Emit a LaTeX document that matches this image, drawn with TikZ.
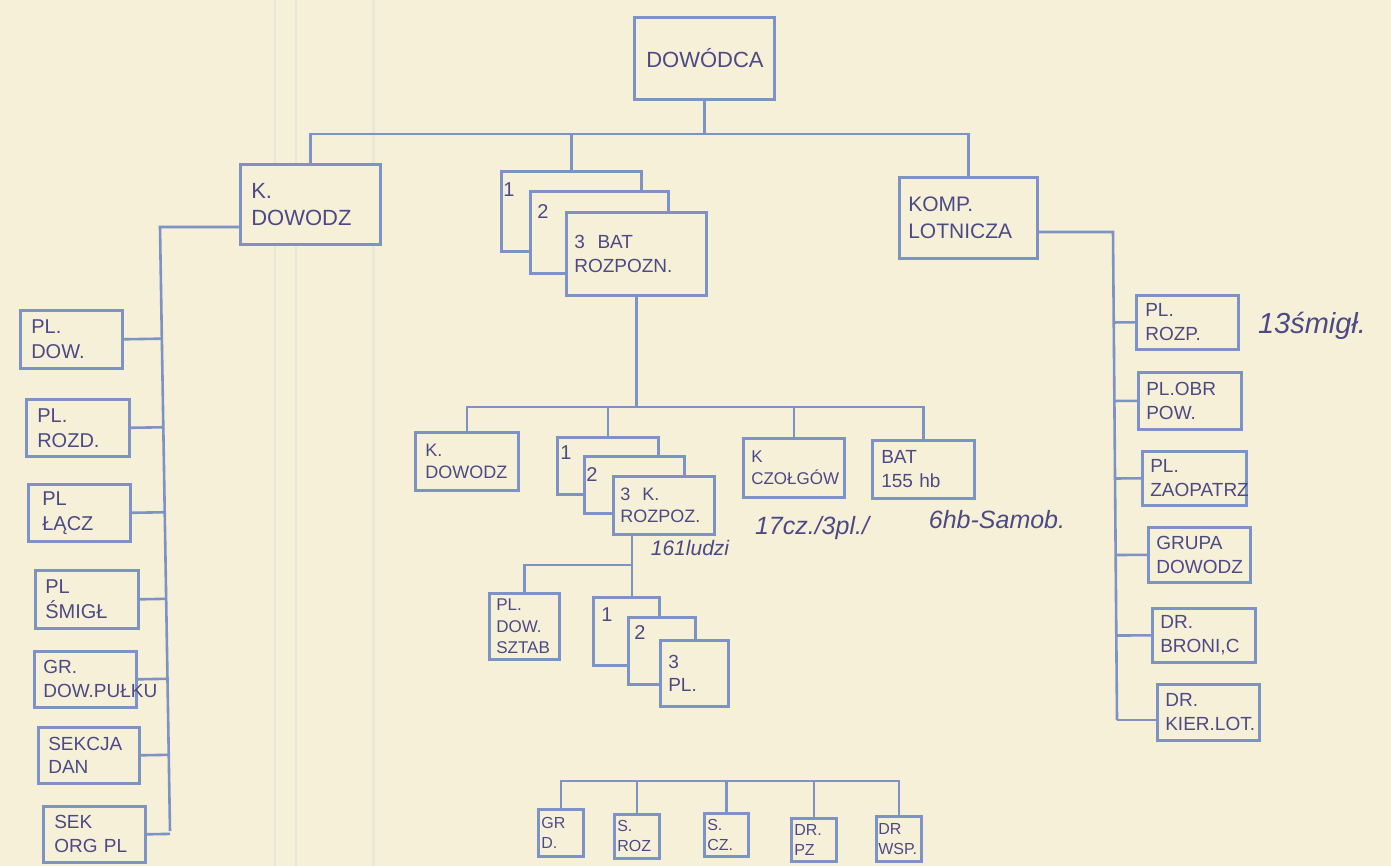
\documentclass[tikz,border=0pt]{standalone}
\usepackage{fontspec}
\setmainfont{Liberation Sans}
\usetikzlibrary{calc}
\definecolor{paper}{HTML}{F6F0D8}
\definecolor{ink}{HTML}{4C4A85}
\definecolor{pen}{HTML}{7D92C5}
\definecolor{fold}{HTML}{EBE7D6}
\tikzset{
  bx/.style={draw=pen, line width=2.6pt, fill=paper, text=ink, align=left, inner sep=0pt, anchor=north west},
  ln/.style={draw=pen, line width=2.6pt},
  note/.style={text=ink, font=\itshape\fontsize{25}{28}\selectfont},
  num/.style={text=ink, font=\fontsize{20}{22}\selectfont},
}
\newcommand\orgbox[8]{%
  \pgfmathsetmacro\obW{#4-#2}%
  \pgfmathsetmacro\obH{#5-#3}%
  \pgfmathsetmacro\obT{#4-#2-2*#7}%
  \pgfmathsetmacro\obS{#6*1.25}%
  \node[bx, minimum width=\obW pt, minimum height=\obH pt, text width=\obT pt,
        font=\fontsize{#6}{\obS}\selectfont] (#1) at (#2,#3) {#8};}
\begin{document}
\begin{tikzpicture}[x=1pt,y=-1pt]
\fill[paper] (0,0) rectangle (1391,866);
\useasboundingbox (0,0) rectangle (1391,866);
% paper fold lines
\draw[fold, line width=2pt] (275,0) -- (275,866);
\draw[fold, line width=2pt] (296,0) -- (296,866);
\draw[fold, line width=3pt] (373,0) -- (373,866);

% top level
\orgbox{dow}{633}{16}{773}{98}{22}{12}{DOWÓDCA}
\orgbox{kd}{239}{163}{379}{243}{22}{11}{K.\\DOWODZ}
\orgbox{ba}{500}{170}{640}{250}{19}{10}{}
\orgbox{bb}{529}{190}{667}{272}{19}{10}{}
\orgbox{bc}{565}{211}{705}{294}{19}{8}{3\ \ BAT\\ROZPOZN.}
\node[num] (nba) at (509,190) {1};
\node[num] (nbb) at (543,212) {2};
\orgbox{komp}{898}{176}{1036}{257}{21}{9}{KOMP.\\LOTNICZA}

\coordinate (t1) at (702,134);
\draw[ln] (dow.south) -- (dow.south |- t1);
\draw[ln] (kd.north) -- (kd.north |- t1) -- (komp.north |- t1) -- (komp.north);
\draw[ln] (ba.north) -- (ba.north |- t1);

% left column
\orgbox{l1}{19}{309}{121}{367}{20}{11}{PL.\\DOW.}
\orgbox{l2}{25}{398}{128}{455}{20}{11}{PL.\\ROZD.}
\orgbox{l3}{27}{483}{129}{540}{20}{14}{PL\\ŁĄCZ}
\orgbox{l4}{34}{569}{137}{627}{20}{10}{PL\\ŚMIGŁ}
\orgbox{l5}{33}{650}{135}{706}{19}{9}{GR.\\DOW.PUŁKU}
\orgbox{l6}{37}{726}{138}{782}{19}{10}{SEKCJA\\DAN}
\orgbox{l7}{42}{805}{144}{861}{19}{11}{SEK\\ORG PL}
\coordinate (sT) at (160,227);
\coordinate (sB) at (170,831);
\draw[ln] (kd.west |- sT) -- (sT) -- (sB);
\foreach \b in {l1,l2,l3,l4,l5,l6,l7}
  \draw[ln] (\b.east) -- ($(sT)!(\b.east)!(sB)$);

% right column
\orgbox{r1}{1135}{294}{1237}{348}{19}{9}{PL.\\ROZP.}
\orgbox{r2}{1137}{371}{1240}{428}{19}{8}{PL.OBR\\POW.}
\orgbox{r3}{1141}{450}{1245}{504}{19}{8}{PL.\\ZAOPATRZ}
\orgbox{r4}{1147}{526}{1249}{581}{19}{8}{GRUPA\\DOWODZ}
\orgbox{r5}{1151}{607}{1254}{661}{19}{8}{DR.\\BRONI,C}
\orgbox{r6}{1156}{683}{1258}{739}{19}{8}{DR.\\KIER.LOT.}
\coordinate (rT) at (1113,232);
\coordinate (rB) at (1117,720);
\draw[ln] (komp.east |- rT) -- (rT) -- (rB);
\foreach \b in {r1,r2,r3,r4,r5}
  \draw[ln] (\b.west) -- ($(rT)!(\b.west)!(rB)$);
\draw[ln] (r6.west |- rB) -- (rB);
\node[note, font=\itshape\fontsize{29}{32}\selectfont] (n13) at (1312,326) {13śmigł.};

% middle level
\orgbox{mkd}{414}{431}{517}{489}{18}{10}{K.\\DOWODZ}
\orgbox{ma}{556}{436}{657}{493}{18}{8}{}
\orgbox{mb}{583}{455}{683}{512}{18}{8}{}
\orgbox{mc}{612}{475}{713}{533}{18}{7}{3\ \ K.\\ROZPOZ.}
\node[num] (nma) at (566,453) {1};
\node[num] (nmb) at (592,475) {2};
\orgbox{cz}{742}{437}{843}{496}{17}{8}{K\\CZOŁGÓW}
\orgbox{hb}{871}{439}{973}{497}{19}{9}{BAT\\155 hb}
\coordinate (m1) at (637,407);
\draw[ln] (bc.south) -- (bc.south |- m1);
\draw[ln] (mkd.north) -- (mkd.north |- m1) -- (hb.north |- m1) -- (hb.north);
\draw[ln] (ma.north) -- (ma.north |- m1);
\draw[ln] (cz.north) -- (cz.north |- m1);
\node[note, font=\itshape\fontsize{21}{24}\selectfont] (n161) at (690,548) {161ludzi};
\node[note] (n17) at (812,528) {17cz./3pl./};
\node[note] (n6) at (997,520) {6hb-Samob.};

% lower level
\orgbox{sz}{488}{592}{558}{658}{17}{7}{PL.\\DOW.\\SZTAB}
\orgbox{pa}{592}{596}{658}{664}{19}{8}{}
\orgbox{pb}{627}{616}{694}{683}{19}{8}{}
\orgbox{pc}{659}{639}{727}{705}{19}{8}{3\\PL.}
\node[num] (npa) at (607,615) {1};
\node[num] (npb) at (640,633) {2};
\coordinate (l0) at (632,565);
\draw[ln] (l0 |- mc.south) -- (l0) -- (l0 -| sz.north) -- (sz.north);
\draw[ln] (l0) -- (l0 |- pa.north);

% bottom row
\orgbox{g1}{537}{808}{582}{855}{16}{3}{GR\\D.}
\orgbox{g2}{613}{813}{658}{857}{16}{3}{S.\\ROZ}
\orgbox{g3}{703}{812}{747}{855}{16}{3}{S.\\CZ.}
\orgbox{g4}{790}{817}{835}{860}{16}{3}{DR.\\PZ}
\orgbox{g5}{875}{815}{920}{860}{16}{2}{DR\\WSP.}
\coordinate (bb0) at (0,781);
\draw[ln] (g1.north) -- (g1.north |- bb0) -- (g5.north |- bb0) -- (g5.north);
\foreach \b in {g2,g3,g4}
  \draw[ln] (\b.north) -- (\b.north |- bb0);
\end{tikzpicture}
\end{document}
